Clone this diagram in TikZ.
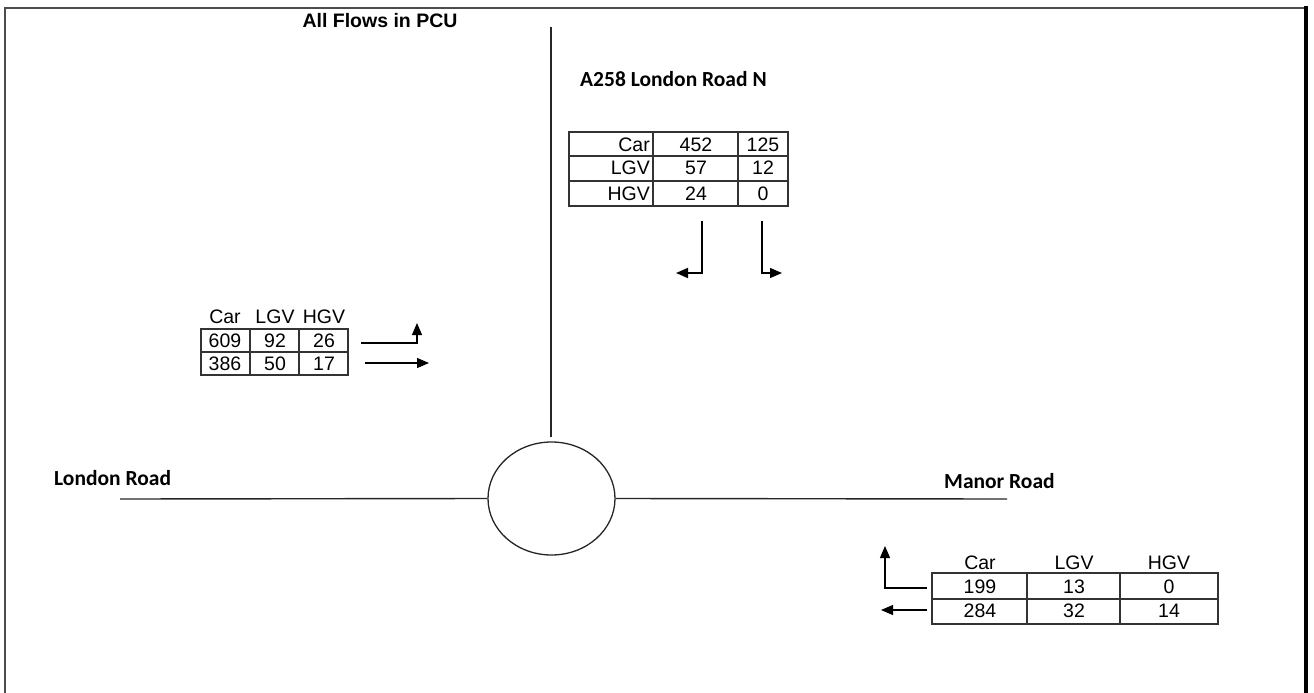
\documentclass[tikz,border=0pt]{standalone}
\usepackage{fontspec}
\setmainfont{Liberation Sans}
\newfontfamily\calibri{Carlito}
\usetikzlibrary{shapes.geometric,arrows.meta}
\begin{document}
\begin{tikzpicture}[x=1pt,y=-1pt,
  road/.style={line width=1.4pt, black!85},
  grid/.style={line width=1.2pt, black!80},
  flow/.style={line width=1.5pt, -{Triangle[length=12pt,width=10pt]}},
  cell/.style={inner sep=0pt, font=\fontsize{19.5}{19.5}\selectfont},
  title/.style={inner sep=0pt, font=\fontsize{21.5}{21.5}\selectfont\calibri\bfseries},
  frame/.style={line width=1.4pt, black!70}]
\useasboundingbox (0,0) rectangle (1314,693);
% frame
\draw[frame] (5,693) -- (5,8) -- (1306,8);
\draw[line width=3.5pt] (1306,6.5) -- (1306,693);
% titles
\node[inner sep=0pt, font=\fontsize{19.5}{19.5}\selectfont\bfseries] (pcu) at (380,21) {All Flows in PCU};
\node[title, anchor=west] (a258) at (580,79) {A258 London Road N};
\node[title, anchor=west] (lrd) at (54,478) {London Road};
\node[title, anchor=west] (mrd) at (944,481) {Manor Road};
% roundabout and roads
\node[ellipse, draw, line width=1.3pt, black!85, minimum width=127pt, minimum height=113pt, inner sep=0pt] (rb) at (551.5,498.5) {};
\coordinate (nend) at (551,27);
\coordinate (ntop) at (551,437);
\coordinate (wend) at (120,499);
\coordinate (eend) at (1007,499);
\draw[road] (ntop) -- (nend);
\draw[road] (wend) -- (rb.west);
\draw[road] (rb.east) -- (eend);
% top table
\draw[grid] (569,132) rectangle (788,206);
\draw[grid] (569,156) -- (788,156) (569,181) -- (788,181)
  (653,132) -- (653,206) (738,132) -- (738,206);
\node[cell, anchor=east] (tcar) at (650,145) {Car};
\node[cell, anchor=east] (tlgv) at (650,168) {LGV};
\node[cell, anchor=east] (thgv) at (650,194) {HGV};
\node[cell] (t11) at (696,145) {452};
\node[cell] (t12) at (763,145) {125};
\node[cell] (t21) at (696,168) {57};
\node[cell] (t22) at (763,168) {12};
\node[cell] (t31) at (696,194) {24};
\node[cell] (t32) at (763,194) {0};
\coordinate (ta1) at (702,221);
\coordinate (ta1c) at (702,273);
\coordinate (ta1e) at (676,273);
\coordinate (ta2) at (762,221);
\coordinate (ta2c) at (762,273);
\coordinate (ta2e) at (782,273);
\draw[flow, line width=1.8pt] (ta1) -- (ta1c) -- (ta1e);
\draw[flow, line width=1.1pt] (ta2) -- (ta2c) -- (ta2e);
% left table
\node[cell] (lcar) at (225,317) {Car};
\node[cell] (llgv) at (275,317) {LGV};
\node[cell] (lhgv) at (324,317) {HGV};
\draw[grid] (201,329) rectangle (348,375);
\draw[grid] (201,352) -- (348,352) (250,329) -- (250,375) (299,329) -- (299,375);
\node[cell] (l11) at (225,341) {609};
\node[cell] (l12) at (275,341) {92};
\node[cell] (l13) at (324,341) {26};
\node[cell] (l21) at (225,364) {386};
\node[cell] (l22) at (275,364) {50};
\node[cell] (l23) at (324,364) {17};
\coordinate (la1) at (361,343);
\coordinate (la1c) at (417,343);
\coordinate (la1e) at (417,323);
\coordinate (la2) at (365,363);
\coordinate (la2e) at (429,363);
\draw[flow, line width=1.1pt] (la1) -- (la1c) -- (la1e);
\draw[flow, line width=1.1pt] (la2) -- (la2e);
% bottom-right table
\node[cell] (rcar) at (980,563) {Car};
\node[cell] (rlgv) at (1074,563) {LGV};
\node[cell] (rhgv) at (1169,563) {HGV};
\draw[grid] (932,573) rectangle (1218,624);
\draw[grid] (932,599) -- (1218,599) (1027,573) -- (1027,624) (1120,573) -- (1120,624);
\node[cell] (r11) at (980,587) {199};
\node[cell] (r12) at (1074,587) {13};
\node[cell] (r13) at (1169,587) {0};
\node[cell] (r21) at (980,611) {284};
\node[cell] (r22) at (1074,611) {32};
\node[cell] (r23) at (1169,611) {14};
\coordinate (ra1) at (927,588);
\coordinate (ra1c) at (885,588);
\coordinate (ra1e) at (885,546);
\coordinate (ra2) at (927,610);
\coordinate (ra2e) at (881,610);
\draw[flow, line width=1.1pt] (ra1) -- (ra1c) -- (ra1e);
\draw[flow, line width=1.1pt] (ra2) -- (ra2e);
\end{tikzpicture}
\end{document}
